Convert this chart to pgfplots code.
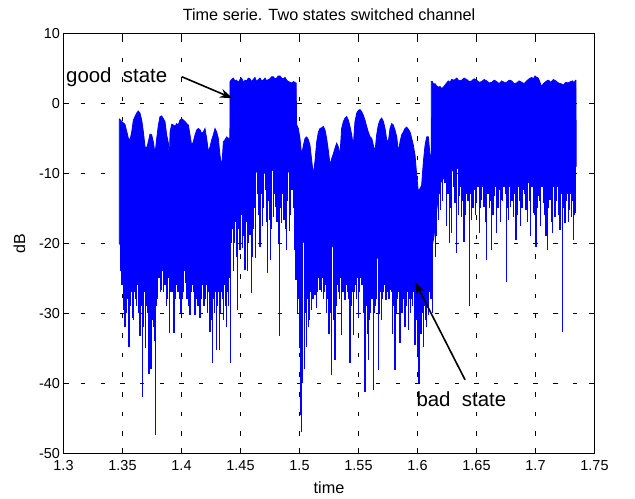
\documentclass[border=0pt]{standalone}
\usepackage{fontspec}
\setmainfont{Liberation Sans}
\usepackage{pgfplots}
\pgfplotsset{compat=1.18}
\usetikzlibrary{arrows.meta}

\begin{document}
\begin{tikzpicture}
\begin{axis}[
  scale only axis, width=531bp, height=420bp,
  xmin=1.3, xmax=1.75, ymin=-50, ymax=10,
  xtick={1.3,1.35,1.4,1.45,1.5,1.55,1.6,1.65,1.7,1.75},
  ytick={-50,-40,-30,-20,-10,0,10},
  /pgf/number format/assume math mode=true,
  tick label style={font=\fontsize{14.5}{16}\selectfont},
  xticklabel style={anchor=base, yshift=-17.5bp},
  grid=major,
  major grid style={black, line width=0.6bp, dash pattern=on 4.5bp off 15.17bp, dash phase=2.25bp},
  tick align=inside, major tick length=5.5bp,
  axis line style={line width=0.8bp},
  every tick/.style={black, line width=0.8bp},
  title={Time serie. Two states switched channel},
  title style={at={(0.5,1.0167)}, anchor=base, font=\fontsize{16.3}{19}\selectfont},
  xlabel={time}, xlabel style={at={(0.5,-0.0969)}, anchor=base, font=\fontsize{16.3}{19}\selectfont},
  ylabel={dB}, ylabel style={at={(-0.0725,0.5)}, anchor=base, font=\fontsize{16}{19}\selectfont},
  fades/.style={blue, line width=1.2bp, unbounded coords=jump},
]
% dense body of the signal: upper envelope left to right, lower edge back
\addplot[draw=blue, fill=blue, line width=0.8bp] coordinates {
 (1.3473,-2.2) (1.3493,-2.6) (1.3521,-3.0) (1.3550,-5.0) (1.3564,-5.2) (1.3578,-4.1) (1.3592,-2.4) (1.3620,-1.4)
 (1.3634,-1.1) (1.3648,-1.4) (1.3663,-2.4) (1.3677,-4.1) (1.3691,-6.2) (1.3705,-6.4) (1.3719,-5.5) (1.3733,-4.4)
 (1.3747,-4.5) (1.3761,-5.5) (1.3776,-7.2) (1.3790,-5.0) (1.3804,-3.1) (1.3818,-1.9) (1.3832,-1.8) (1.3846,-2.2)
 (1.3860,-2.6) (1.3874,-4.5) (1.3889,-5.7) (1.3897,-8.3) (1.3903,-4.1) (1.3917,-3.0) (1.3931,-3.1) (1.3945,-3.3)
 (1.3959,-2.9) (1.3973,-3.1) (1.3987,-2.4) (1.4002,-2.2) (1.4016,-2.4) (1.4030,-2.6) (1.4044,-2.9) (1.4058,-3.1)
 (1.4072,-4.5) (1.4086,-6.0) (1.4100,-5.5) (1.4115,-4.5) (1.4129,-3.8) (1.4143,-3.6) (1.4157,-3.8) (1.4171,-4.3)
 (1.4185,-4.1) (1.4199,-3.6) (1.4213,-5.0) (1.4228,-6.9) (1.4242,-6.2) (1.4256,-5.2) (1.4270,-4.5) (1.4284,-3.6)
 (1.4298,-4.1) (1.4312,-5.0) (1.4326,-7.4) (1.4341,-9.1) (1.4355,-5.5) (1.4369,-5.2) (1.4383,-4.8) (1.4397,-5.0)
 (1.4410,-5.0)
 (1.4411,3.1) (1.4425,3.4) (1.4439,3.6) (1.4452,3.2) (1.4466,3.3) (1.4481,3.0) (1.4496,3.4) (1.4510,3.6)
 (1.4525,3.0) (1.4539,3.3) (1.4553,3.2) (1.4566,3.6) (1.4580,3.5) (1.4594,3.1) (1.4608,3.4) (1.4622,3.7)
 (1.4637,3.1) (1.4651,3.4) (1.4665,3.6) (1.4679,3.2) (1.4693,3.3) (1.4708,3.6) (1.4722,3.2) (1.4736,3.4)
 (1.4750,3.5) (1.4764,3.8) (1.4778,3.8) (1.4792,3.5) (1.4806,3.6) (1.4820,3.9) (1.4835,3.9) (1.4849,3.6)
 (1.4863,3.5) (1.4877,3.7) (1.4892,3.3) (1.4906,3.1) (1.4920,3.0) (1.4934,2.9) (1.4950,3.1) (1.4968,2.9)
 (1.4972,2.9)
 (1.4975,-3.0) (1.4990,-3.6) (1.5004,-5.0) (1.5018,-7.4) (1.5033,-6.0) (1.5047,-5.0) (1.5061,-4.8) (1.5075,-5.2)
 (1.5089,-6.0) (1.5103,-8.1) (1.5117,-10.2) (1.5131,-8.3) (1.5146,-5.5) (1.5160,-4.1) (1.5174,-3.6) (1.5188,-3.5)
 (1.5202,-3.3) (1.5216,-3.8) (1.5230,-5.0) (1.5244,-6.7) (1.5259,-8.8) (1.5273,-7.9) (1.5287,-7.2) (1.5301,-6.4)
 (1.5315,-5.7) (1.5329,-6.2) (1.5343,-7.4) (1.5357,-3.6) (1.5372,-2.6) (1.5386,-2.1) (1.5400,-1.9) (1.5414,-2.4)
 (1.5428,-3.3) (1.5442,-4.5) (1.5456,-6.0) (1.5470,-2.6) (1.5485,-1.4) (1.5499,-1.0) (1.5513,-0.9) (1.5527,-1.2)
 (1.5541,-1.7) (1.5555,-2.4) (1.5569,-3.3) (1.5583,-4.1) (1.5598,-4.8) (1.5612,-5.0) (1.5626,-6.0) (1.5640,-6.9)
 (1.5654,-4.5) (1.5668,-3.1) (1.5682,-2.4) (1.5696,-2.1) (1.5711,-2.6) (1.5725,-3.6) (1.5739,-5.2) (1.5753,-5.5)
 (1.5767,-3.6) (1.5781,-2.9) (1.5795,-3.1) (1.5809,-3.8) (1.5824,-4.8) (1.5838,-6.9) (1.5852,-5.5) (1.5866,-4.5)
 (1.5880,-4.1) (1.5894,-3.6) (1.5908,-3.4) (1.5922,-3.7) (1.5937,-4.1) (1.5951,-5.0) (1.5965,-6.0) (1.5979,-7.4)
 (1.5993,-10.2) (1.6007,-12.6) (1.6021,-12.2) (1.6035,-11.7) (1.6050,-8.3) (1.6064,-6.0) (1.6078,-4.8) (1.6092,-4.8)
 (1.6106,-7.4) (1.6116,-7.4)
 (1.6117,3.1) (1.6126,3.1) (1.6137,2.7) (1.6148,2.8) (1.6162,2.5) (1.6177,2.3) (1.6191,2.4) (1.6205,2.1)
 (1.6219,2.3) (1.6233,2.6) (1.6247,2.9) (1.6261,3.2) (1.6275,3.0) (1.6290,3.4) (1.6311,3.3) (1.6332,3.6)
 (1.6353,3.2) (1.6374,3.3) (1.6395,3.6) (1.6417,3.4) (1.6438,3.1) (1.6459,3.2) (1.6480,3.5) (1.6501,3.3)
 (1.6522,3.0) (1.6544,3.1) (1.6565,3.4) (1.6586,3.2) (1.6607,2.9) (1.6629,3.0) (1.6650,3.3) (1.6671,3.1)
 (1.6692,2.8) (1.6713,3.2) (1.6734,3.0) (1.6756,3.0) (1.6777,3.3) (1.6798,3.2) (1.6819,2.8) (1.6840,2.9)
 (1.6861,3.2) (1.6883,3.0) (1.6904,2.8) (1.6925,3.2) (1.6947,3.5) (1.6968,3.7) (1.6982,3.5) (1.6996,3.9)
 (1.7010,3.7) (1.7024,3.6) (1.7038,3.0) (1.7052,2.4) (1.7066,2.8) (1.7081,3.0) (1.7095,3.2) (1.7109,3.3)
 (1.7130,3.0) (1.7151,3.4) (1.7172,3.2) (1.7194,2.9) (1.7215,2.8) (1.7236,2.6) (1.7257,3.0) (1.7278,2.9)
 (1.7297,3.1) (1.7315,3.2) (1.7327,2.9) (1.7338,3.3) (1.7343,3.3) (1.7345,-7.6)
 (1.7345,-9.0) (1.7250,-9.5) (1.7150,-8.8) (1.7050,-9.6) (1.6950,-9.0) (1.6850,-9.4) (1.6750,-8.9) (1.6650,-9.5)
 (1.6550,-9.0) (1.6450,-9.4) (1.6350,-9.2) (1.6250,-10.0) (1.6190,-11.5) (1.6165,-15.0) (1.6140,-19.0) (1.6117,-21.0)
 (1.6110,-25.5) (1.6080,-25.0) (1.6050,-24.5) (1.6000,-24.0) (1.5950,-23.0) (1.5900,-22.5) (1.5850,-22.0) (1.5800,-21.5)
 (1.5750,-22.0) (1.5700,-22.5) (1.5650,-22.0) (1.5600,-21.0) (1.5550,-22.5) (1.5500,-21.5) (1.5450,-20.0) (1.5400,-19.0)
 (1.5350,-20.5) (1.5300,-21.0) (1.5250,-19.5) (1.5200,-20.0) (1.5150,-22.0) (1.5100,-21.5) (1.5050,-20.0) (1.5000,-19.5)
 (1.4976,-19.0)
 (1.4970,-10.0) (1.4930,-9.5) (1.4890,-10.0) (1.4850,-9.2) (1.4800,-9.8) (1.4750,-9.4) (1.4700,-10.0) (1.4650,-9.5)
 (1.4600,-10.5) (1.4550,-12.0) (1.4500,-14.0) (1.4450,-15.0) (1.4411,-16.0)
 (1.4405,-18.0) (1.4380,-21.5) (1.4350,-23.0) (1.4300,-23.0) (1.4250,-22.5) (1.4200,-21.0) (1.4150,-23.5) (1.4100,-25.0)
 (1.4050,-24.0) (1.4000,-21.5) (1.3960,-19.5) (1.3920,-20.5) (1.3880,-19.5) (1.3840,-19.0) (1.3800,-21.5) (1.3760,-23.0)
 (1.3720,-24.0) (1.3680,-24.5) (1.3640,-25.0) (1.3600,-24.5) (1.3560,-24.0) (1.3520,-22.5) (1.3490,-20.5) (1.3473,-20.0)
 (1.3473,-2.2)
};
% deep fades: one vertical stroke each
\addplot[fades] coordinates {
 (1.3485,-15)(1.3485,-24)(1.3485,nan) (1.3507,-15)(1.3507,-29.5)(1.3507,nan) (1.3521,-15)(1.3521,-31.9)(1.3521,nan)
 (1.3540,-15)(1.3540,-28)(1.3540,nan) (1.3555,-15)(1.3555,-34.8)(1.3555,nan) (1.3583,-15)(1.3583,-30.7)(1.3583,nan)
 (1.3600,-15)(1.3600,-27)(1.3600,nan) (1.3620,-15)(1.3620,-29)(1.3620,nan) (1.3648,-15)(1.3648,-33.3)(1.3648,nan)
 (1.3668,-15)(1.3668,-41.9)(1.3668,nan) (1.3696,-15)(1.3696,-35)(1.3696,nan) (1.3710,-15)(1.3710,-30)(1.3710,nan)
 (1.3725,-15)(1.3725,-38.6)(1.3725,nan) (1.3742,-15)(1.3742,-37.9)(1.3742,nan) (1.3760,-15)(1.3760,-32)(1.3760,nan)
 (1.3781,-15)(1.3781,-47.4)(1.3781,nan) (1.3800,-15)(1.3800,-28)(1.3800,nan) (1.3832,-15)(1.3832,-26.7)(1.3832,nan)
 (1.3850,-15)(1.3850,-27)(1.3850,nan) (1.3870,-15)(1.3870,-29)(1.3870,nan) (1.3897,-15)(1.3897,-32.8)(1.3897,nan)
 (1.3920,-15)(1.3920,-27)(1.3920,nan) (1.3936,-15)(1.3936,-32.8)(1.3936,nan) (1.3960,-15)(1.3960,-26)(1.3960,nan)
 (1.3996,-15)(1.3996,-30)(1.3996,nan) (1.4010,-15)(1.4010,-28)(1.4010,nan) (1.4038,-15)(1.4038,-25.7)(1.4038,nan)
 (1.4072,-15)(1.4072,-30.2)(1.4072,nan) (1.4100,-15)(1.4100,-27)(1.4100,nan) (1.4114,-15)(1.4114,-30.2)(1.4114,nan)
 (1.4130,-15)(1.4130,-28)(1.4130,nan) (1.4157,-15)(1.4157,-30.7)(1.4157,nan) (1.4180,-15)(1.4180,-26)(1.4180,nan)
 (1.4200,-15)(1.4200,-28)(1.4200,nan) (1.4241,-15)(1.4241,-32.6)(1.4241,nan) (1.4264,-15)(1.4264,-37.1)(1.4264,nan)
 (1.4280,-15)(1.4280,-30)(1.4280,nan) (1.4298,-15)(1.4298,-35.2)(1.4298,nan) (1.4321,-15)(1.4321,-35.2)(1.4321,nan)
 (1.4350,-15)(1.4350,-28)(1.4350,nan) (1.4383,-15)(1.4383,-31.9)(1.4383,nan) (1.4400,-15)(1.4400,-29)(1.4400,nan)
 (1.4417,-15)(1.4417,-37.1)(1.4417,nan)
 (1.4440,-5)(1.4440,-24)(1.4440,nan) (1.4476,-5)(1.4476,-29.5)(1.4476,nan) (1.4496,-5)(1.4496,-21)(1.4496,nan)
 (1.4516,-5)(1.4516,-20.7)(1.4516,nan) (1.4538,-5)(1.4538,-23.8)(1.4538,nan) (1.4558,-5)(1.4558,-24)(1.4558,nan)
 (1.4581,-5)(1.4581,-18.8)(1.4581,nan) (1.4592,-5)(1.4592,-27.1)(1.4592,nan) (1.4603,-5)(1.4603,-22)(1.4603,nan)
 (1.4626,-5)(1.4626,-14.3)(1.4626,nan) (1.4630,-5)(1.4630,-22.1)(1.4630,nan) (1.4643,-5)(1.4643,-12.9)(1.4643,nan)
 (1.4665,-5)(1.4665,-20.5)(1.4665,nan) (1.4688,-5)(1.4688,-17.6)(1.4688,nan) (1.4711,-5)(1.4711,-12.4)(1.4711,nan)
 (1.4728,-5)(1.4728,-24.3)(1.4728,nan) (1.4745,-5)(1.4745,-16.7)(1.4745,nan) (1.4756,-5)(1.4756,-22.4)(1.4756,nan)
 (1.4778,-5)(1.4778,-16.2)(1.4778,nan) (1.4801,-5)(1.4801,-14.8)(1.4801,nan) (1.4832,-5)(1.4832,-33.3)(1.4832,nan)
 (1.4846,-5)(1.4846,-17.1)(1.4846,nan) (1.4869,-5)(1.4869,-16.7)(1.4869,nan) (1.4891,-5)(1.4891,-21)(1.4891,nan)
 (1.4914,-5)(1.4914,-18.3)(1.4914,nan) (1.4937,-5)(1.4937,-12.4)(1.4937,nan) (1.4956,-5)(1.4956,-21)(1.4956,nan)
 (1.4970,-5)(1.4970,-25.2)(1.4970,nan)
 (1.4985,-15)(1.4985,-30)(1.4985,nan) (1.5010,-15)(1.5010,-44.5)(1.5010,nan) (1.5018,-15)(1.5018,-46.9)(1.5018,nan)
 (1.5040,-15)(1.5040,-38)(1.5040,nan) (1.5061,-15)(1.5061,-34.8)(1.5061,nan) (1.5085,-15)(1.5085,-31)(1.5085,nan)
 (1.5103,-15)(1.5103,-29.5)(1.5103,nan) (1.5131,-15)(1.5131,-27.4)(1.5131,nan) (1.5145,-15)(1.5145,-29.3)(1.5145,nan)
 (1.5174,-15)(1.5174,-26.7)(1.5174,nan) (1.5200,-15)(1.5200,-28)(1.5200,nan) (1.5230,-15)(1.5230,-30)(1.5230,nan)
 (1.5250,-15)(1.5250,-33)(1.5250,nan) (1.5273,-15)(1.5273,-38.8)(1.5273,nan) (1.5301,-15)(1.5301,-36.7)(1.5301,nan)
 (1.5330,-15)(1.5330,-27)(1.5330,nan) (1.5357,-15)(1.5357,-33.1)(1.5357,nan) (1.5386,-15)(1.5386,-28.1)(1.5386,nan)
 (1.5410,-15)(1.5410,-27)(1.5410,nan) (1.5428,-15)(1.5428,-37.1)(1.5428,nan) (1.5456,-15)(1.5456,-33.1)(1.5456,nan)
 (1.5480,-15)(1.5480,-28)(1.5480,nan) (1.5499,-15)(1.5499,-30.5)(1.5499,nan) (1.5530,-15)(1.5530,-26)(1.5530,nan)
 (1.5555,-15)(1.5555,-41.2)(1.5555,nan) (1.5583,-15)(1.5583,-36.7)(1.5583,nan) (1.5605,-15)(1.5605,-30)(1.5605,nan)
 (1.5626,-15)(1.5626,-41)(1.5626,nan) (1.5645,-15)(1.5645,-29)(1.5645,nan) (1.5668,-15)(1.5668,-38.1)(1.5668,nan)
 (1.5696,-15)(1.5696,-31)(1.5696,nan) (1.5715,-15)(1.5715,-27)(1.5715,nan) (1.5733,-15)(1.5733,-28.1)(1.5733,nan)
 (1.5767,-15)(1.5767,-26.7)(1.5767,nan) (1.5790,-15)(1.5790,-33)(1.5790,nan) (1.5809,-15)(1.5809,-38.1)(1.5809,nan)
 (1.5830,-15)(1.5830,-28)(1.5830,nan) (1.5852,-15)(1.5852,-34.3)(1.5852,nan) (1.5875,-15)(1.5875,-30)(1.5875,nan)
 (1.5894,-15)(1.5894,-31.9)(1.5894,nan) (1.5922,-15)(1.5922,-32.4)(1.5922,nan) (1.5950,-15)(1.5950,-28)(1.5950,nan)
 (1.5979,-15)(1.5979,-34.5)(1.5979,nan) (1.6000,-15)(1.6000,-36)(1.6000,nan) (1.6013,-15)(1.6013,-40)(1.6013,nan)
 (1.6030,-15)(1.6030,-33)(1.6030,nan) (1.6049,-15)(1.6049,-34.8)(1.6049,nan) (1.6075,-15)(1.6075,-32)(1.6075,nan)
 (1.6092,-15)(1.6092,-30.2)(1.6092,nan) (1.6110,-15)(1.6110,-28)(1.6110,nan) (1.6129,-15)(1.6129,-30)(1.6129,nan)
 (1.6177,-5)(1.6177,-16.7)(1.6177,nan) (1.6197,-5)(1.6197,-15.2)(1.6197,nan) (1.6233,-5)(1.6233,-11.4)(1.6233,nan)
 (1.6247,-5)(1.6247,-17.6)(1.6247,nan) (1.6270,-5)(1.6270,-20)(1.6270,nan) (1.6290,-5)(1.6290,-18.6)(1.6290,nan)
 (1.6318,-5)(1.6318,-14.3)(1.6318,nan) (1.6332,-5)(1.6332,-21.4)(1.6332,nan) (1.6355,-5)(1.6355,-13.3)(1.6355,nan)
 (1.6374,-5)(1.6374,-16.2)(1.6374,nan) (1.6394,-5)(1.6394,-19.8)(1.6394,nan) (1.6417,-5)(1.6417,-12.9)(1.6417,nan)
 (1.6439,-5)(1.6439,-29)(1.6439,nan) (1.6459,-5)(1.6459,-16.7)(1.6459,nan) (1.6479,-5)(1.6479,-12.4)(1.6479,nan)
 (1.6501,-5)(1.6501,-14.3)(1.6501,nan) (1.6524,-5)(1.6524,-18.6)(1.6524,nan) (1.6544,-5)(1.6544,-13.8)(1.6544,nan)
 (1.6564,-5)(1.6564,-14.8)(1.6564,nan) (1.6586,-5)(1.6586,-22.4)(1.6586,nan) (1.6609,-5)(1.6609,-15)(1.6609,nan)
 (1.6629,-5)(1.6629,-21)(1.6629,nan) (1.6649,-5)(1.6649,-13.3)(1.6649,nan) (1.6671,-5)(1.6671,-18.6)(1.6671,nan)
 (1.6694,-5)(1.6694,-12.4)(1.6694,nan) (1.6713,-5)(1.6713,-13.8)(1.6713,nan) (1.6733,-5)(1.6733,-11.9)(1.6733,nan)
 (1.6753,-5)(1.6753,-25.5)(1.6753,nan) (1.6770,-5)(1.6770,-16.7)(1.6770,nan) (1.6790,-5)(1.6790,-14.8)(1.6790,nan)
 (1.6812,-5)(1.6812,-16.2)(1.6812,nan) (1.6835,-5)(1.6835,-19.5)(1.6835,nan) (1.6855,-5)(1.6855,-11.9)(1.6855,nan)
 (1.6874,-5)(1.6874,-17.6)(1.6874,nan) (1.6897,-5)(1.6897,-12.4)(1.6897,nan) (1.6920,-5)(1.6920,-15.2)(1.6920,nan)
 (1.6939,-5)(1.6939,-11.4)(1.6939,nan) (1.6959,-5)(1.6959,-19)(1.6959,nan) (1.6982,-5)(1.6982,-15.7)(1.6982,nan)
 (1.7004,-5)(1.7004,-20.5)(1.7004,nan) (1.7024,-5)(1.7024,-13.3)(1.7024,nan) (1.7044,-5)(1.7044,-17.6)(1.7044,nan)
 (1.7066,-5)(1.7066,-14.3)(1.7066,nan) (1.7089,-5)(1.7089,-19)(1.7089,nan) (1.7100,-5)(1.7100,-21)(1.7100,nan)
 (1.7123,-5)(1.7123,-13.8)(1.7123,nan) (1.7145,-5)(1.7145,-18.6)(1.7145,nan) (1.7165,-5)(1.7165,-16.2)(1.7165,nan)
 (1.7185,-5)(1.7185,-11.9)(1.7185,nan) (1.7208,-5)(1.7208,-18.1)(1.7208,nan) (1.7230,-5)(1.7230,-32.6)(1.7230,nan)
 (1.7250,-5)(1.7250,-17.1)(1.7250,nan) (1.7270,-5)(1.7270,-12.9)(1.7270,nan) (1.7287,-5)(1.7287,-15.2)(1.7287,nan)
 (1.7306,-5)(1.7306,-16.2)(1.7306,nan) (1.7320,-5)(1.7320,-19.5)(1.7320,nan) (1.7335,-5)(1.7335,-15.7)(1.7335,nan)
};
% shallower fades that fill in the ragged lower edge
\addplot[fades] coordinates {
 (1.3495,-15)(1.3495,-26)(1.3495,nan) (1.3514,-15)(1.3514,-27)(1.3514,nan) (1.3530,-15)(1.3530,-30)(1.3530,nan)
 (1.3548,-15)(1.3548,-26)(1.3548,nan) (1.3566,-15)(1.3566,-29)(1.3566,nan) (1.3575,-15)(1.3575,-27)(1.3575,nan)
 (1.3592,-15)(1.3592,-31)(1.3592,nan) (1.3610,-15)(1.3610,-28)(1.3610,nan) (1.3630,-15)(1.3630,-26)(1.3630,nan)
 (1.3638,-15)(1.3638,-30)(1.3638,nan) (1.3657,-15)(1.3657,-29)(1.3657,nan) (1.3678,-15)(1.3678,-32)(1.3678,nan)
 (1.3688,-15)(1.3688,-27)(1.3688,nan) (1.3703,-15)(1.3703,-29)(1.3703,nan) (1.3717,-15)(1.3717,-33)(1.3717,nan)
 (1.3733,-15)(1.3733,-28)(1.3733,nan) (1.3750,-15)(1.3750,-31)(1.3750,nan) (1.3768,-15)(1.3768,-27)(1.3768,nan)
 (1.3773,-15)(1.3773,-34)(1.3773,nan) (1.3790,-15)(1.3790,-29)(1.3790,nan) (1.3810,-15)(1.3810,-25)(1.3810,nan)
 (1.3820,-15)(1.3820,-27)(1.3820,nan) (1.3840,-15)(1.3840,-24)(1.3840,nan) (1.3860,-15)(1.3860,-26)(1.3860,nan)
 (1.3880,-15)(1.3880,-28)(1.3880,nan) (1.3888,-15)(1.3888,-25)(1.3888,nan) (1.3907,-15)(1.3907,-27)(1.3907,nan)
 (1.3928,-15)(1.3928,-25)(1.3928,nan) (1.3945,-15)(1.3945,-28)(1.3945,nan) (1.3952,-15)(1.3952,-24)(1.3952,nan)
 (1.3970,-15)(1.3970,-27)(1.3970,nan) (1.3980,-15)(1.3980,-25)(1.3980,nan) (1.3988,-15)(1.3988,-28)(1.3988,nan)
 (1.4003,-15)(1.4003,-26)(1.4003,nan) (1.4020,-15)(1.4020,-27)(1.4020,nan) (1.4030,-15)(1.4030,-24)(1.4030,nan)
 (1.4046,-15)(1.4046,-28)(1.4046,nan) (1.4055,-15)(1.4055,-26)(1.4055,nan) (1.4064,-15)(1.4064,-29)(1.4064,nan)
 (1.4080,-15)(1.4080,-27)(1.4080,nan) (1.4090,-15)(1.4090,-26)(1.4090,nan) (1.4107,-15)(1.4107,-29)(1.4107,nan)
 (1.4122,-15)(1.4122,-27)(1.4122,nan) (1.4140,-15)(1.4140,-29)(1.4140,nan) (1.4148,-15)(1.4148,-26)(1.4148,nan)
 (1.4165,-15)(1.4165,-28)(1.4165,nan) (1.4172,-15)(1.4172,-27)(1.4172,nan) (1.4190,-15)(1.4190,-29)(1.4190,nan)
 (1.4210,-15)(1.4210,-26)(1.4210,nan) (1.4220,-15)(1.4220,-30)(1.4220,nan) (1.4230,-15)(1.4230,-27)(1.4230,nan)
 (1.4250,-15)(1.4250,-29)(1.4250,nan) (1.4257,-15)(1.4257,-31)(1.4257,nan) (1.4272,-15)(1.4272,-28)(1.4272,nan)
 (1.4288,-15)(1.4288,-27)(1.4288,nan) (1.4306,-15)(1.4306,-29)(1.4306,nan) (1.4313,-15)(1.4313,-27)(1.4313,nan)
 (1.4330,-15)(1.4330,-30)(1.4330,nan) (1.4340,-15)(1.4340,-27)(1.4340,nan) (1.4358,-15)(1.4358,-31)(1.4358,nan)
 (1.4366,-15)(1.4366,-26)(1.4366,nan) (1.4375,-15)(1.4375,-29)(1.4375,nan) (1.4392,-15)(1.4392,-27)(1.4392,nan)
 (1.4408,-15)(1.4408,-25)(1.4408,nan)
 (1.4415,-5)(1.4415,-22)(1.4415,nan) (1.4420,-5)(1.4420,-20)(1.4420,nan) (1.4430,-5)(1.4430,-18)(1.4430,nan)
 (1.4450,-5)(1.4450,-20)(1.4450,nan) (1.4460,-5)(1.4460,-17)(1.4460,nan) (1.4468,-5)(1.4468,-22)(1.4468,nan)
 (1.4486,-5)(1.4486,-18)(1.4486,nan) (1.4505,-5)(1.4505,-16)(1.4505,nan) (1.4525,-5)(1.4525,-19)(1.4525,nan)
 (1.4548,-5)(1.4548,-17)(1.4548,nan) (1.4570,-5)(1.4570,-20)(1.4570,nan) (1.4612,-5)(1.4612,-18)(1.4612,nan)
 (1.4618,-5)(1.4618,-15)(1.4618,nan) (1.4652,-5)(1.4652,-16)(1.4652,nan) (1.4675,-5)(1.4675,-13)(1.4675,nan)
 (1.4698,-5)(1.4698,-15)(1.4698,nan) (1.4720,-5)(1.4720,-17)(1.4720,nan) (1.4736,-5)(1.4736,-14)(1.4736,nan)
 (1.4765,-5)(1.4765,-18)(1.4765,nan) (1.4790,-5)(1.4790,-13)(1.4790,nan) (1.4810,-5)(1.4810,-17)(1.4810,nan)
 (1.4820,-5)(1.4820,-20)(1.4820,nan) (1.4838,-5)(1.4838,-15)(1.4838,nan) (1.4858,-5)(1.4858,-13)(1.4858,nan)
 (1.4880,-5)(1.4880,-18)(1.4880,nan) (1.4900,-5)(1.4900,-14)(1.4900,nan) (1.4925,-5)(1.4925,-16)(1.4925,nan)
 (1.4946,-5)(1.4946,-15)(1.4946,nan) (1.4962,-5)(1.4962,-17)(1.4962,nan)
 (1.4993,-15)(1.4993,-28)(1.4993,nan) (1.5002,-15)(1.5002,-35)(1.5002,nan) (1.5028,-15)(1.5028,-40)(1.5028,nan)
 (1.5050,-15)(1.5050,-30)(1.5050,nan) (1.5070,-15)(1.5070,-28)(1.5070,nan) (1.5078,-15)(1.5078,-32)(1.5078,nan)
 (1.5095,-15)(1.5095,-27)(1.5095,nan) (1.5115,-15)(1.5115,-28)(1.5115,nan) (1.5122,-15)(1.5122,-25)(1.5122,nan)
 (1.5138,-15)(1.5138,-26)(1.5138,nan) (1.5155,-15)(1.5155,-27)(1.5155,nan) (1.5165,-15)(1.5165,-25)(1.5165,nan)
 (1.5185,-15)(1.5185,-27)(1.5185,nan) (1.5192,-15)(1.5192,-25)(1.5192,nan) (1.5210,-15)(1.5210,-27)(1.5210,nan)
 (1.5220,-15)(1.5220,-26)(1.5220,nan) (1.5240,-15)(1.5240,-28)(1.5240,nan) (1.5260,-15)(1.5260,-30)(1.5260,nan)
 (1.5265,-15)(1.5265,-27)(1.5265,nan) (1.5285,-15)(1.5285,-31)(1.5285,nan) (1.5293,-15)(1.5293,-28)(1.5293,nan)
 (1.5310,-15)(1.5310,-29)(1.5310,nan) (1.5320,-15)(1.5320,-26)(1.5320,nan) (1.5340,-15)(1.5340,-28)(1.5340,nan)
 (1.5348,-15)(1.5348,-25)(1.5348,nan) (1.5368,-15)(1.5368,-27)(1.5368,nan) (1.5376,-15)(1.5376,-25)(1.5376,nan)
 (1.5395,-15)(1.5395,-26)(1.5395,nan) (1.5418,-15)(1.5418,-28)(1.5418,nan) (1.5438,-15)(1.5438,-29)(1.5438,nan)
 (1.5447,-15)(1.5447,-27)(1.5447,nan) (1.5465,-15)(1.5465,-27)(1.5465,nan) (1.5472,-15)(1.5472,-26)(1.5472,nan)
 (1.5490,-15)(1.5490,-25)(1.5490,nan) (1.5508,-15)(1.5508,-27)(1.5508,nan) (1.5518,-15)(1.5518,-25)(1.5518,nan)
 (1.5540,-15)(1.5540,-28)(1.5540,nan) (1.5547,-15)(1.5547,-30)(1.5547,nan) (1.5565,-15)(1.5565,-29)(1.5565,nan)
 (1.5574,-15)(1.5574,-33)(1.5574,nan) (1.5592,-15)(1.5592,-31)(1.5592,nan) (1.5615,-15)(1.5615,-28)(1.5615,nan)
 (1.5635,-15)(1.5635,-30)(1.5635,nan) (1.5655,-15)(1.5655,-28)(1.5655,nan) (1.5678,-15)(1.5678,-30)(1.5678,nan)
 (1.5686,-15)(1.5686,-27)(1.5686,nan) (1.5705,-15)(1.5705,-28)(1.5705,nan) (1.5723,-15)(1.5723,-26)(1.5723,nan)
 (1.5742,-15)(1.5742,-27)(1.5742,nan) (1.5750,-15)(1.5750,-25)(1.5750,nan) (1.5758,-15)(1.5758,-28)(1.5758,nan)
 (1.5778,-15)(1.5778,-27)(1.5778,nan) (1.5798,-15)(1.5798,-29)(1.5798,nan) (1.5818,-15)(1.5818,-30)(1.5818,nan)
 (1.5840,-15)(1.5840,-27)(1.5840,nan) (1.5860,-15)(1.5860,-28)(1.5860,nan) (1.5866,-15)(1.5866,-30)(1.5866,nan)
 (1.5883,-15)(1.5883,-28)(1.5883,nan) (1.5903,-15)(1.5903,-29)(1.5903,nan) (1.5912,-15)(1.5912,-27)(1.5912,nan)
 (1.5930,-15)(1.5930,-28)(1.5930,nan) (1.5940,-15)(1.5940,-30)(1.5940,nan) (1.5960,-15)(1.5960,-29)(1.5960,nan)
 (1.5968,-15)(1.5968,-27)(1.5968,nan) (1.5988,-15)(1.5988,-31)(1.5988,nan) (1.6006,-15)(1.6006,-30)(1.6006,nan)
 (1.6020,-15)(1.6020,-33)(1.6020,nan) (1.6038,-15)(1.6038,-30)(1.6038,nan) (1.6058,-15)(1.6058,-29)(1.6058,nan)
 (1.6066,-15)(1.6066,-31)(1.6066,nan) (1.6084,-15)(1.6084,-29)(1.6084,nan) (1.6100,-15)(1.6100,-27)(1.6100,nan)
 (1.6120,-15)(1.6120,-28)(1.6120,nan)
 (1.6125,-5)(1.6125,-20)(1.6125,nan) (1.6150,-5)(1.6150,-22)(1.6150,nan) (1.6160,-5)(1.6160,-19)(1.6160,nan)
 (1.6187,-5)(1.6187,-13)(1.6187,nan) (1.6215,-5)(1.6215,-14)(1.6215,nan) (1.6258,-5)(1.6258,-13)(1.6258,nan)
 (1.6280,-5)(1.6280,-15)(1.6280,nan) (1.6305,-5)(1.6305,-12)(1.6305,nan) (1.6345,-5)(1.6345,-16)(1.6345,nan)
 (1.6364,-5)(1.6364,-12)(1.6364,nan) (1.6384,-5)(1.6384,-14)(1.6384,nan) (1.6405,-5)(1.6405,-16)(1.6405,nan)
 (1.6428,-5)(1.6428,-14)(1.6428,nan) (1.6449,-5)(1.6449,-13)(1.6449,nan) (1.6470,-5)(1.6470,-15)(1.6470,nan)
 (1.6490,-5)(1.6490,-16)(1.6490,nan) (1.6512,-5)(1.6512,-12)(1.6512,nan) (1.6534,-5)(1.6534,-15)(1.6534,nan)
 (1.6555,-5)(1.6555,-12)(1.6555,nan) (1.6575,-5)(1.6575,-17)(1.6575,nan) (1.6597,-5)(1.6597,-13)(1.6597,nan)
 (1.6618,-5)(1.6618,-14)(1.6618,nan) (1.6639,-5)(1.6639,-16)(1.6639,nan) (1.6660,-5)(1.6660,-12)(1.6660,nan)
 (1.6683,-5)(1.6683,-15)(1.6683,nan) (1.6703,-5)(1.6703,-17)(1.6703,nan) (1.6723,-5)(1.6723,-14)(1.6723,nan)
 (1.6743,-5)(1.6743,-13)(1.6743,nan) (1.6761,-5)(1.6761,-15)(1.6761,nan) (1.6780,-5)(1.6780,-12)(1.6780,nan)
 (1.6800,-5)(1.6800,-14)(1.6800,nan) (1.6822,-5)(1.6822,-13)(1.6822,nan) (1.6845,-5)(1.6845,-16)(1.6845,nan)
 (1.6865,-5)(1.6865,-14)(1.6865,nan) (1.6886,-5)(1.6886,-15)(1.6886,nan) (1.6908,-5)(1.6908,-13)(1.6908,nan)
 (1.6930,-5)(1.6930,-17)(1.6930,nan) (1.6949,-5)(1.6949,-14)(1.6949,nan) (1.6970,-5)(1.6970,-12)(1.6970,nan)
 (1.6993,-5)(1.6993,-16)(1.6993,nan) (1.7014,-5)(1.7014,-15)(1.7014,nan) (1.7034,-5)(1.7034,-14)(1.7034,nan)
 (1.7055,-5)(1.7055,-12)(1.7055,nan) (1.7077,-5)(1.7077,-16)(1.7077,nan) (1.7111,-5)(1.7111,-15)(1.7111,nan)
 (1.7134,-5)(1.7134,-17)(1.7134,nan) (1.7155,-5)(1.7155,-12)(1.7155,nan) (1.7175,-5)(1.7175,-14)(1.7175,nan)
 (1.7196,-5)(1.7196,-16)(1.7196,nan) (1.7219,-5)(1.7219,-13)(1.7219,nan) (1.7240,-5)(1.7240,-15)(1.7240,nan)
 (1.7260,-5)(1.7260,-14)(1.7260,nan) (1.7278,-5)(1.7278,-17)(1.7278,nan) (1.7296,-5)(1.7296,-13)(1.7296,nan)
 (1.7313,-5)(1.7313,-14)(1.7313,nan) (1.7328,-5)(1.7328,-16)(1.7328,nan)
};
% annotations
\node[anchor=base west, inner sep=0pt, font=\fontsize{20.5}{25}\selectfont] at (axis cs:1.3021,3.0) {good\ \ state};
\draw[line width=1.6bp, -{Stealth[length=13bp, width=9bp]}] (axis cs:1.4002,3.8) -- (axis cs:1.4434,0.71);
\node[anchor=base west, inner sep=0pt, font=\fontsize{20.5}{25}\selectfont] at (axis cs:1.5990,-43.3) {bad\ \ state};
\draw[line width=1.6bp, -{Stealth[length=13bp, width=9bp]}] (axis cs:1.6403,-39.5) -- (axis cs:1.5979,-25.5);
\end{axis}
\path ([xshift=-63.5bp, yshift=-45.7bp]current axis.south west) rectangle ([xshift=40.5bp, yshift=33.3bp]current axis.north east);
\end{tikzpicture}
\end{document}
